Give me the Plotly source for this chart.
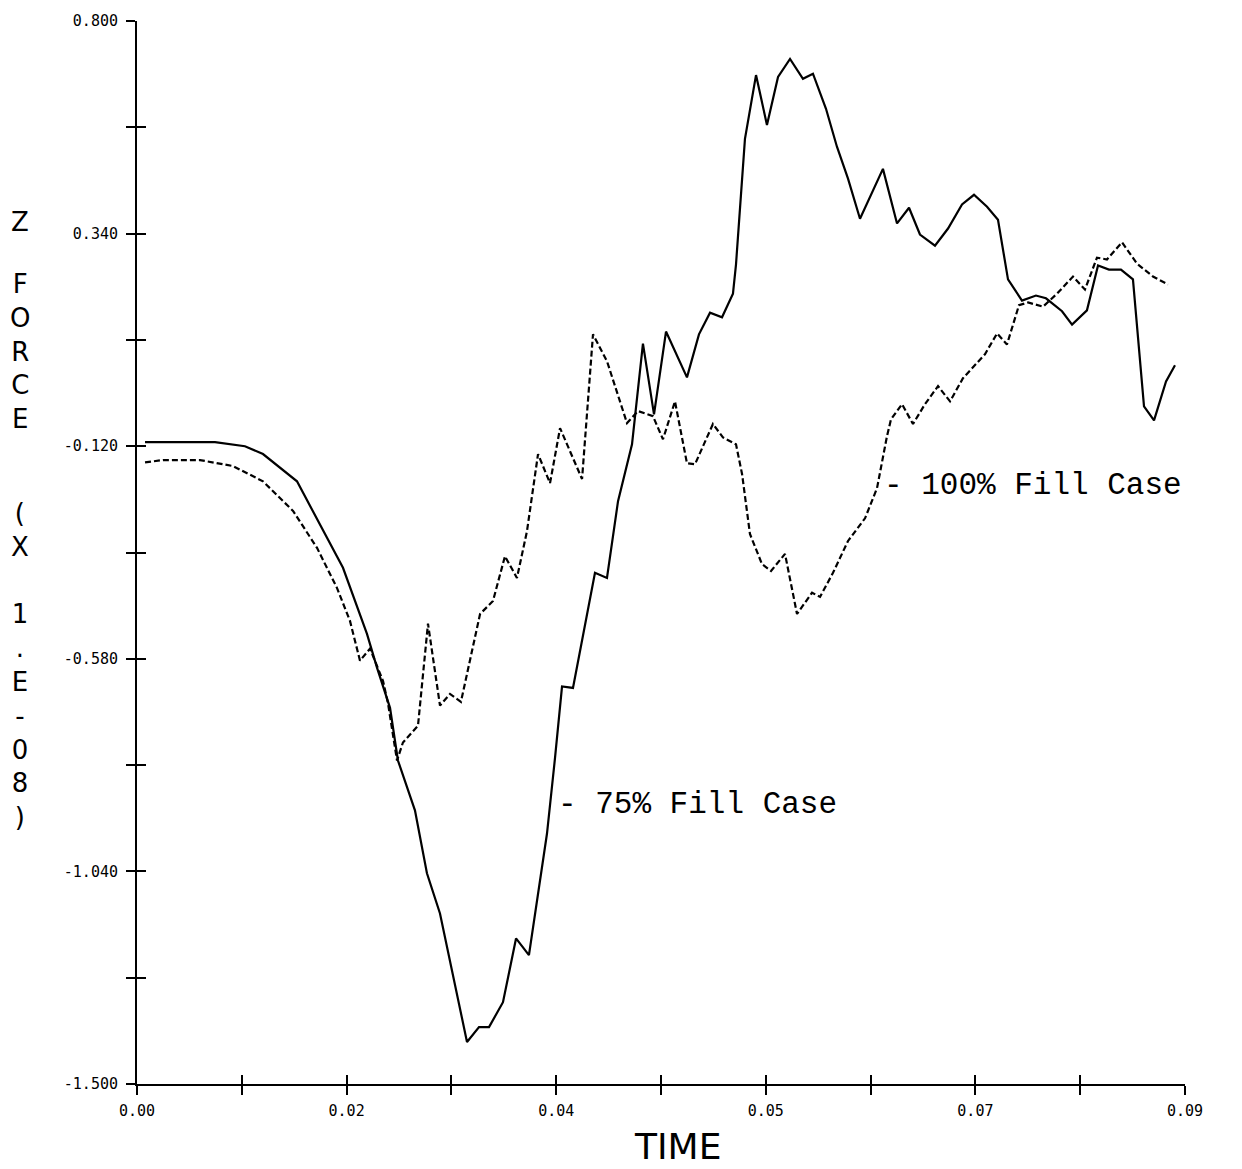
import plotly.graph_objects as go

# Z force history (units of 1.E+08) for the two fill cases
time_75 = [0.00069, 0.0067, 0.00927, 0.01082, 0.01374, 0.01632, 0.01769, 0.01975, 0.02061, 0.02173,
           0.02241, 0.02387, 0.02490, 0.02602, 0.02834, 0.02937, 0.03023, 0.03143, 0.03255, 0.03366,
           0.03435, 0.03521, 0.03590, 0.03650, 0.03744, 0.03933, 0.04036, 0.04131, 0.04251, 0.04345,
           0.04440, 0.04543, 0.04723, 0.04826, 0.04921, 0.05024, 0.05118, 0.05144, 0.05221, 0.05316,
           0.05410, 0.05505, 0.05608, 0.05719, 0.05805, 0.05917, 0.06011, 0.06106, 0.06209, 0.06406,
           0.06527, 0.06630, 0.06724, 0.06853, 0.06965, 0.07085, 0.07188, 0.07300, 0.07394, 0.07480,
           0.07600, 0.07720, 0.07806, 0.07944, 0.08030, 0.08158, 0.08253, 0.08347, 0.08450, 0.08553,
           0.08648, 0.08734, 0.08837, 0.08914]
force_75 = [-0.111, -0.111, -0.120, -0.137, -0.196, -0.319, -0.383, -0.526, -0.599, -0.686,
            -0.800, -0.908, -1.044, -1.131, -1.409, -1.377, -1.377, -1.323, -1.185, -1.221,
            -1.103, -0.958, -0.794, -0.640, -0.643, -0.394, -0.405, -0.239, -0.116, 0.102,
            -0.051, 0.128, 0.029, 0.122, 0.169, 0.159, 0.210, 0.273, 0.545, 0.683,
            0.575, 0.679, 0.718, 0.675, 0.686, 0.610, 0.528, 0.459, 0.372, 0.480,
            0.362, 0.396, 0.338, 0.314, 0.351, 0.403, 0.424, 0.398, 0.370, 0.241,
            0.195, 0.206, 0.200, 0.172, 0.143, 0.174, 0.271, 0.262, 0.262, 0.241,
            -0.034, -0.064, 0.020, 0.055]

time_100 = [0.00069, 0.00223, 0.00541, 0.00824, 0.01082, 0.01340, 0.01546, 0.01718, 0.01829, 0.01915,
            0.02001, 0.02113, 0.02156, 0.02233, 0.02284, 0.02413, 0.02499, 0.02602, 0.02688, 0.02782,
            0.02946, 0.03057, 0.03160, 0.03263, 0.03349, 0.03444, 0.03547, 0.03633, 0.03822, 0.03916,
            0.04036, 0.04208, 0.04302, 0.04431, 0.04517, 0.04620, 0.04723, 0.04792, 0.04946, 0.05032,
            0.05144, 0.05196, 0.05264, 0.05367, 0.05445, 0.05565, 0.05668, 0.05797, 0.05866, 0.05977,
            0.06106, 0.06252, 0.06355, 0.06441, 0.06475, 0.06570, 0.06664, 0.06767, 0.06879, 0.06982,
            0.07093, 0.07282, 0.07386, 0.07471, 0.07574, 0.07652, 0.07781, 0.07901, 0.08038, 0.08141,
            0.08244, 0.08330, 0.08459, 0.08588, 0.08725, 0.08854]
force_100 = [-0.155, -0.150, -0.150, -0.163, -0.196, -0.260, -0.340, -0.427, -0.498, -0.584,
             -0.558, -0.628, -0.677, -0.800, -0.761, -0.725, -0.504, -0.681, -0.656, -0.673,
             -0.483, -0.455, -0.358, -0.405, -0.304, -0.137, -0.200, -0.081, -0.191, 0.122,
             0.064, -0.070, -0.044, -0.055, -0.105, -0.023, -0.157, -0.159, -0.072, -0.101,
             -0.116, -0.180, -0.310, -0.375, -0.390, -0.353, -0.483, -0.437, -0.446, -0.394,
             -0.325, -0.276, -0.211, -0.098, -0.062, -0.029, -0.072, -0.029, 0.010, -0.023,
             0.027, 0.079, 0.124, 0.100, 0.185, 0.191, 0.182, 0.210, 0.247, 0.219,
             0.288, 0.284, 0.321, 0.275, 0.247, 0.230]

# axis ticks
x_tickvals = [0.0, 0.009, 0.018, 0.027, 0.036, 0.045, 0.054, 0.063, 0.072, 0.081, 0.09]
x_ticktext = ["0.00", "", "0.02", "", "0.04", "", "0.05", "", "0.07", "", "0.09"]
y_tickvals = [0.8, 0.57, 0.34, 0.11, -0.12, -0.35, -0.58, -0.81, -1.04, -1.27, -1.5]
y_ticktext = ["0.800", "", "0.340", "", "-0.120", "", "-0.580", "", "-1.040", "", "-1.500"]

# stacked y-axis title, one block per group of characters
ytitle_groups = [["Z"], ["F", "O", "R", "C", "E"], ["(", "X", "", "1", ".", "E", "-", "0", "8", ")"]]
ytitle_center_px = [220, 350, 664]

W, H = 1242, 1169
L, R, T, B = 137, 57, 19, 85
plot_h = H - T - B
plot_w = W - L - R

fig = go.Figure()
fig.add_trace(go.Scatter(x=time_75, y=force_75, mode="lines",
                         line=dict(color="black", width=2.2), showlegend=False))
fig.add_trace(go.Scatter(x=time_100, y=force_100, mode="lines",
                         line=dict(color="black", width=2.2, dash="6px,3px"), showlegend=False))
# invisible trace so the mirrored tick axes get drawn
fig.add_trace(go.Scatter(x=[0.0], y=[0.8], xaxis="x2", yaxis="y2", mode="markers",
                         marker=dict(opacity=0), showlegend=False, hoverinfo="skip"))

tick_font = dict(family="DejaVu Sans Mono, Liberation Mono, monospace", size=15, color="black")
fig.update_layout(
    width=W, height=H,
    margin=dict(l=L, r=R, t=T, b=B),
    paper_bgcolor="white", plot_bgcolor="white",
    xaxis=dict(range=[0, 0.09], tickmode="array", tickvals=x_tickvals, ticktext=x_ticktext,
               ticks="outside", ticklen=9, tickwidth=1.5, tickcolor="black",
               showline=True, linewidth=2, linecolor="black", showgrid=False, zeroline=False,
               tickfont=tick_font, ticklabelstandoff=3),
    yaxis=dict(range=[-1.5, 0.8], tickmode="array", tickvals=y_tickvals, ticktext=y_ticktext,
               ticks="outside", ticklen=9, tickwidth=1.5, tickcolor="black",
               showline=True, linewidth=2, linecolor="black", showgrid=False, zeroline=False,
               tickfont=tick_font, ticklabelstandoff=5),
    xaxis2=dict(range=[0, 0.09], overlaying="x", tickmode="array", tickvals=x_tickvals,
                ticks="inside", ticklen=9, tickwidth=1.5, tickcolor="black",
                showticklabels=False, showline=False, showgrid=False, zeroline=False),
    yaxis2=dict(range=[-1.5, 0.8], overlaying="y", tickmode="array", tickvals=y_tickvals,
                ticks="inside", ticklen=9, tickwidth=1.5, tickcolor="black",
                showticklabels=False, showline=False, showgrid=False, zeroline=False),
)

label_font = dict(family="Liberation Mono, Courier New, monospace", size=31, color="black")
fig.add_annotation(x=0.0640, y=-0.204, xref="x", yref="y", text="- 100% Fill Case",
                   showarrow=False, xanchor="left", yanchor="middle", font=label_font)
fig.add_annotation(x=0.0360, y=-0.895, xref="x", yref="y", text="- 75% Fill Case",
                   showarrow=False, xanchor="left", yanchor="middle", font=label_font)

title_font = dict(family="Liberation Sans Narrow, DejaVu Sans, sans-serif", size=36, color="black")
fig.add_annotation(x=(677 - L) / plot_w, y=(H - B - 1147) / plot_h, xref="paper", yref="paper",
                   text="TIME", showarrow=False, xanchor="center", yanchor="middle", font=title_font)

for group, py in zip(ytitle_groups, ytitle_center_px):
    text = "<br>".join(ch if ch else " " for ch in group)
    fig.add_annotation(x=(20 - L) / plot_w, y=(H - B - py) / plot_h, xref="paper", yref="paper",
                       text=text, showarrow=False, xanchor="center", yanchor="middle", align="center",
                       font=dict(family="Liberation Sans Narrow, DejaVu Sans, sans-serif",
                                 size=26, color="black"))

fig.write_html("out.html")
